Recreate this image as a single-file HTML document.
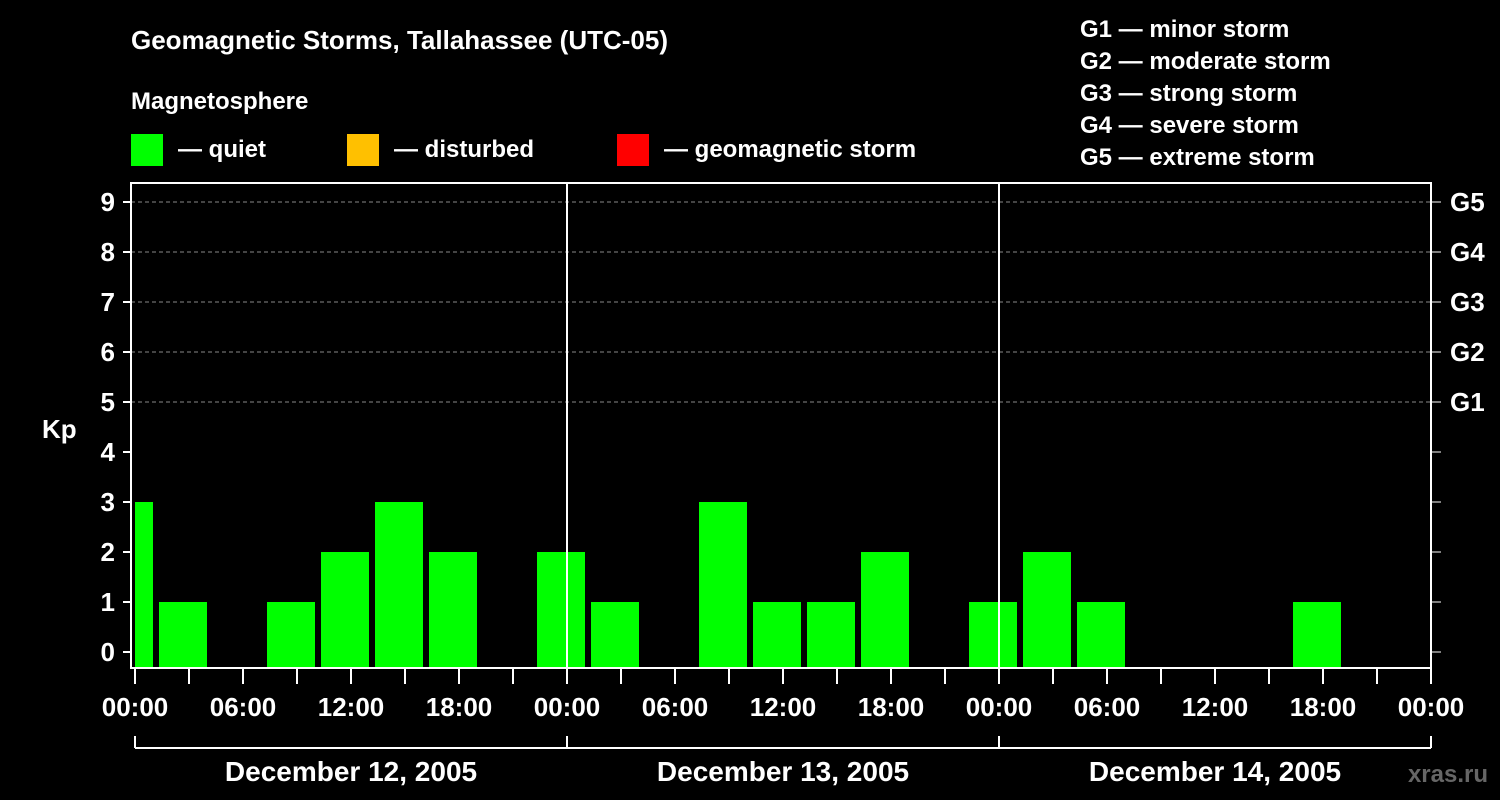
<!DOCTYPE html>
<html><head><meta charset="utf-8"><style>
html,body{margin:0;padding:0;background:#000;}
svg{display:block;font-family:"Liberation Sans",Arial,sans-serif;font-weight:bold;}
</style></head><body>
<svg id="chart" width="1500" height="800" viewBox="0 0 1500 800" xmlns="http://www.w3.org/2000/svg">
<rect x="0" y="0" width="1500" height="800" fill="#000"/>
<text x="131" y="49" fill="#fff" font-size="26">Geomagnetic Storms, Tallahassee (UTC-05)</text>
<text x="131" y="109" fill="#fff" font-size="24">Magnetosphere</text>
<g><rect x="131" y="134" width="32" height="32" fill="#00ff00"/><text x="178" y="157" fill="#fff" font-size="24">— quiet</text></g>
<g><rect x="347" y="134" width="32" height="32" fill="#ffc000"/><text x="394" y="157" fill="#fff" font-size="24">— disturbed</text></g>
<g><rect x="617" y="134" width="32" height="32" fill="#ff0000"/><text x="664" y="157" fill="#fff" font-size="24">— geomagnetic storm</text></g>
<g fill="#fff" font-size="24">
<text x="1080" y="37">G1 — minor storm</text>
<text x="1080" y="69">G2 — moderate storm</text>
<text x="1080" y="101">G3 — strong storm</text>
<text x="1080" y="133">G4 — severe storm</text>
<text x="1080" y="165">G5 — extreme storm</text>
</g>
<text x="42" y="438" fill="#fff" font-size="26">Kp</text>
<text x="1488" y="782" fill="#666" font-size="24" text-anchor="end">xras.ru</text>
<g id="plot"></g>
</svg>
<script>
const kpValues = [3, 1, 0, 1, 2, 3, 2, 0, 2, 1, 0, 3, 1, 1, 2, 0, 1, 2, 1, 0, 0, 0, 1, 0, 0];
const yTicks = [0, 1, 2, 3, 4, 5, 6, 7, 8, 9];
const gLabels = ["G1", "G2", "G3", "G4", "G5"];
const gLevels = [5, 6, 7, 8, 9];
const hourLabels = ["00:00", "06:00", "12:00", "18:00"];
const dayLabels = ["December 12, 2005", "December 13, 2005", "December 14, 2005"];

const NS = "http://www.w3.org/2000/svg";
const plot = document.getElementById("plot");
const L = 131, R = 1431, T = 183, B = 668;
const x0 = 135, pxPerHour = 18, binOffsetH = -33 / 18;
function xH(h) { return x0 + h * pxPerHour; }
function yK(k) { return 652 - k * 50; }
function mk(tag, attrs, parent) {
  const e = document.createElementNS(NS, tag);
  for (const k in attrs) e.setAttribute(k, attrs[k]);
  (parent || plot).appendChild(e);
  return e;
}
// grid
gLevels.forEach((k, i) => {
  const l = mk("line", {x1: L, x2: R, y1: yK(k), y2: yK(k), stroke: "#888", "stroke-dasharray": "4,3", "stroke-width": 1});
  
  
  const t = mk("text", {x: 1450, y: yK(k) + 9, fill: "#fff", "font-size": 26});
  t.textContent = gLabels[i];
  
  
});
// bars
kpValues.forEach((v, i) => {
  if (v <= 0) return;
  let a = xH(binOffsetH + i * 3) + 3, b = a + 48;
  a = Math.max(a, x0); b = Math.min(b, R);
  if (b <= a) return;
  const color = v >= 5 ? "#ff0000" : (v >= 4 ? "#ffc000" : "#00ff00");
  const r = mk("rect", {x: a, y: yK(v), width: b - a, height: B - yK(v), fill: color});
  
  
});
// day separators
[1, 2].forEach(d => {
  const l = mk("line", {x1: xH(d * 24), x2: xH(d * 24), y1: T, y2: B, stroke: "#fff", "stroke-width": 2});
  
  
});
// frame
const fr = mk("rect", {x: L, y: T, width: R - L, height: B - T, fill: "none", stroke: "#fff", "stroke-width": 2});


// y ticks
yTicks.forEach(k => {
  mk("line", {x1: 123, x2: L, y1: yK(k), y2: yK(k), stroke: "#fff", "stroke-width": 2});
  mk("line", {x1: R, x2: 1441, y1: yK(k), y2: yK(k), stroke: "#fff", "stroke-width": 1});
  const t = mk("text", {x: 115, y: yK(k) + 9, fill: "#fff", "font-size": 26, "text-anchor": "end"});
  t.textContent = k;
  
  
});
// x ticks
for (let h = 0; h <= 72; h += 3) {
  mk("line", {x1: xH(h), x2: xH(h), y1: B, y2: 684, stroke: "#fff", "stroke-width": 2});
  if (h % 6 === 0) {
    const t = mk("text", {x: xH(h), y: 716, fill: "#fff", "font-size": 26, "text-anchor": "middle"});
    t.textContent = hourLabels[(h / 6) % 4];
    
    
  }
}
// date bracket
mk("line", {x1: x0, x2: xH(72), y1: 748, y2: 748, stroke: "#fff", "stroke-width": 2});
for (let d = 0; d <= 3; d++) mk("line", {x1: xH(d * 24), x2: xH(d * 24), y1: 736, y2: 748, stroke: "#fff", "stroke-width": 2});
dayLabels.forEach((s, d) => {
  const t = mk("text", {x: xH(d * 24 + 12), y: 781, fill: "#fff", "font-size": 28, "text-anchor": "middle"});
  t.textContent = s;
  
  
});
</script>
</body></html>
